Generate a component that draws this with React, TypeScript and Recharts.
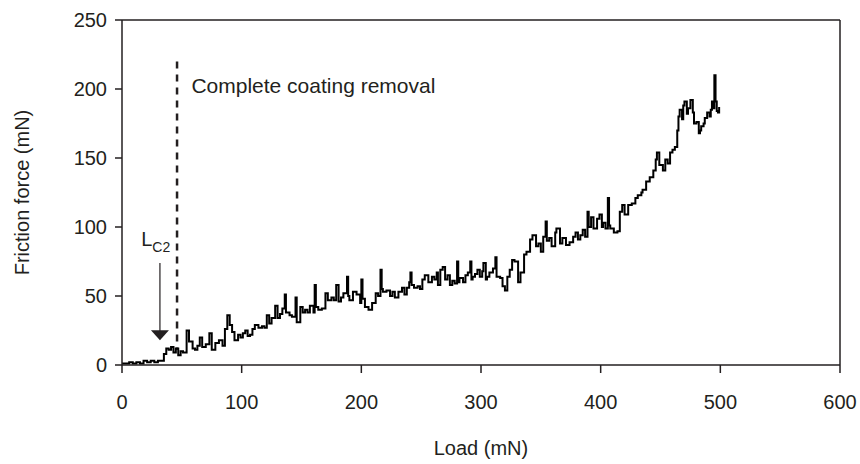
import React from "react"
import {
  LineChart,
  Line,
  XAxis,
  YAxis,
  ReferenceLine,
  ReferenceDot,
  Label,
} from "recharts"

const FONT = "'Liberation Sans', Arial, Helvetica, sans-serif"
const INK = "#231f20"

const xTicks = [0, 100, 200, 300, 400, 500, 600]
const yTicks = [0, 50, 100, 150, 200, 250]

// load (mN)
const loads = [
  0, 3, 6, 9, 12, 15, 18, 21, 24, 27, 30, 33, 35, 37, 39, 41, 43, 45, 47, 49,
  51, 54, 56, 59, 61, 63, 65, 67, 70, 73, 75, 78, 81, 84, 86, 88, 90, 92, 94, 97,
  99, 101, 103, 105, 107, 109, 111, 114, 117, 119, 121, 123, 125, 128, 130, 132, 134, 136, 137, 140,
  142, 145, 146, 149, 151, 153, 155, 157, 160, 161, 162, 164, 167, 170, 172, 175, 177, 179, 181, 183,
  185, 188, 189, 190, 193, 196, 199, 200, 201, 203, 206, 209, 212, 214, 216, 217, 218, 221, 224, 226,
  228, 231, 234, 236, 238, 240, 241, 242, 244, 247, 249, 251, 253, 256, 259, 261, 263, 264, 266, 268,
  270, 272, 274, 276, 278, 280, 281, 282, 285, 287, 289, 291, 292, 293, 295, 297, 299, 301, 302, 304,
  305, 307, 310, 312, 313, 316, 318, 320, 322, 324, 326, 328, 331, 333, 336, 338, 341, 343, 346, 348,
  350, 352, 354, 355, 357, 359, 362, 363, 366, 368, 371, 374, 377, 379, 381, 383, 385, 387, 389, 390,
  392, 394, 397, 399, 401, 402, 404, 406, 407, 408, 411, 414, 416, 418, 420, 423, 426, 429, 431, 434,
  435, 438, 441, 444, 446, 447, 449, 452, 454, 456, 458, 460, 462, 464, 465, 466, 468, 469, 470, 472,
  473, 475, 477, 478, 480, 482, 483, 484, 486, 487, 489, 491, 492, 493, 494, 495, 496, 497, 498, 499,
]

// friction force (mN)
const forces = [
  1, 1, 2, 1, 2, 1, 3, 2, 3, 2, 3, 3, 8, 12, 11, 13, 9, 12, 7, 10,
  9, 25, 17, 12, 11, 14, 20, 13, 15, 23, 11, 16, 18, 14, 26, 36, 29, 24, 18, 22,
  20, 23, 25, 21, 22, 26, 29, 27, 28, 27, 36, 30, 34, 43, 34, 37, 41, 51, 38, 36,
  35, 49, 31, 42, 38, 40, 38, 43, 38, 58, 42, 40, 41, 52, 47, 49, 47, 58, 46, 49,
  52, 64, 50, 47, 53, 51, 45, 62, 48, 42, 40, 45, 52, 50, 69, 55, 53, 54, 50, 53,
  49, 53, 56, 51, 56, 60, 67, 58, 56, 57, 55, 62, 65, 60, 64, 62, 67, 58, 69, 71,
  62, 65, 58, 61, 59, 75, 60, 63, 60, 65, 67, 75, 62, 64, 66, 69, 64, 68, 74, 62,
  64, 67, 70, 78, 64, 63, 57, 54, 64, 69, 76, 75, 60, 67, 80, 82, 91, 94, 86, 88,
  82, 93, 104, 90, 92, 86, 96, 99, 88, 92, 87, 89, 93, 96, 91, 94, 98, 93, 111, 100,
  107, 99, 106, 109, 100, 103, 99, 121, 101, 99, 96, 97, 111, 116, 109, 116, 117, 121, 123, 125,
  127, 133, 136, 141, 149, 154, 145, 141, 149, 146, 154, 156, 158, 170, 180, 185, 178, 188, 191, 182,
  186, 192, 183, 175, 176, 168, 170, 173, 175, 179, 183, 180, 185, 191, 186, 210, 191, 184, 183, 187,
]

const data = loads.map((load, i) => ({ load, force: forces[i] }))

const removalLoad = 46
const lc2Load = 31.7

function YTitle({ viewBox }: any) {
  const x = viewBox.x + 22
  const y = viewBox.y + viewBox.height / 2
  return (
    <text
      x={x}
      y={y}
      transform={`rotate(-90, ${x}, ${y})`}
      textAnchor="middle"
      dominantBaseline="central"
      fontFamily={FONT}
      fontSize={20}
      fill={INK}
    >
      Friction force (mN)
    </text>
  )
}

export default function App() {
  return (
    <div style={{ position: "absolute", left: 0, top: 0, background: "#fff" }}>
      <LineChart
        width={860}
        height={464}
        data={data}
        margin={{ top: 20, right: 20, left: 0, bottom: 0 }}
      >
        <XAxis
          dataKey="load"
          type="number"
          domain={[0, 600]}
          ticks={xTicks}
          height={99}
          stroke={INK}
          strokeWidth={1.5}
          tickSize={8}
          tickMargin={22}
          tick={{ fill: INK, fontSize: 20, fontFamily: FONT }}
        >
          <Label
            value="Load (mN)"
            position="insideBottom"
            offset={9}
            fill={INK}
            fontSize={20}
            fontFamily={FONT}
          />
        </XAxis>
        <YAxis
          type="number"
          domain={[0, 250]}
          ticks={yTicks}
          width={122}
          stroke={INK}
          strokeWidth={1.5}
          tickSize={7}
          tickMargin={8}
          tick={{ fill: INK, fontSize: 20, fontFamily: FONT }}
        >
          <Label content={YTitle} />
        </YAxis>

        <ReferenceLine y={250} stroke={INK} strokeWidth={1.5} />
        <ReferenceLine x={600} stroke={INK} strokeWidth={1.5} />

        <ReferenceLine
          segment={[
            { x: removalLoad, y: 220 },
            { x: removalLoad, y: 11 },
          ]}
          stroke={INK}
          strokeWidth={2.5}
          strokeDasharray="7 6"
        />
        <ReferenceDot
          x={58}
          y={197}
          r={0}
          shape={(p: any) => (
            <text x={p.cx} y={p.cy} fontFamily={FONT} fontSize={21} fill={INK}>
              Complete coating removal
            </text>
          )}
        />

        <ReferenceLine
          segment={[
            { x: lc2Load, y: 74 },
            { x: lc2Load, y: 24 },
          ]}
          stroke={INK}
          strokeWidth={1.2}
        />
        <ReferenceDot
          x={lc2Load}
          y={18}
          r={0}
          shape={(p: any) => (
            <path
              d={`M${p.cx},${p.cy} L${p.cx - 9},${p.cy - 10} L${p.cx + 9},${p.cy - 10} Z`}
              fill={INK}
            />
          )}
        />
        <ReferenceDot
          x={16}
          y={86}
          r={0}
          shape={(p: any) => (
            <text x={p.cx} y={p.cy} fontFamily={FONT} fontSize={20} fill={INK}>
              L
              <tspan fontSize={14} dy={6}>
                C2
              </tspan>
            </text>
          )}
        />

        <Line
          type="stepAfter"
          dataKey="force"
          stroke="#000"
          strokeWidth={2}
          dot={false}
          isAnimationActive={false}
        />
      </LineChart>
    </div>
  )
}
